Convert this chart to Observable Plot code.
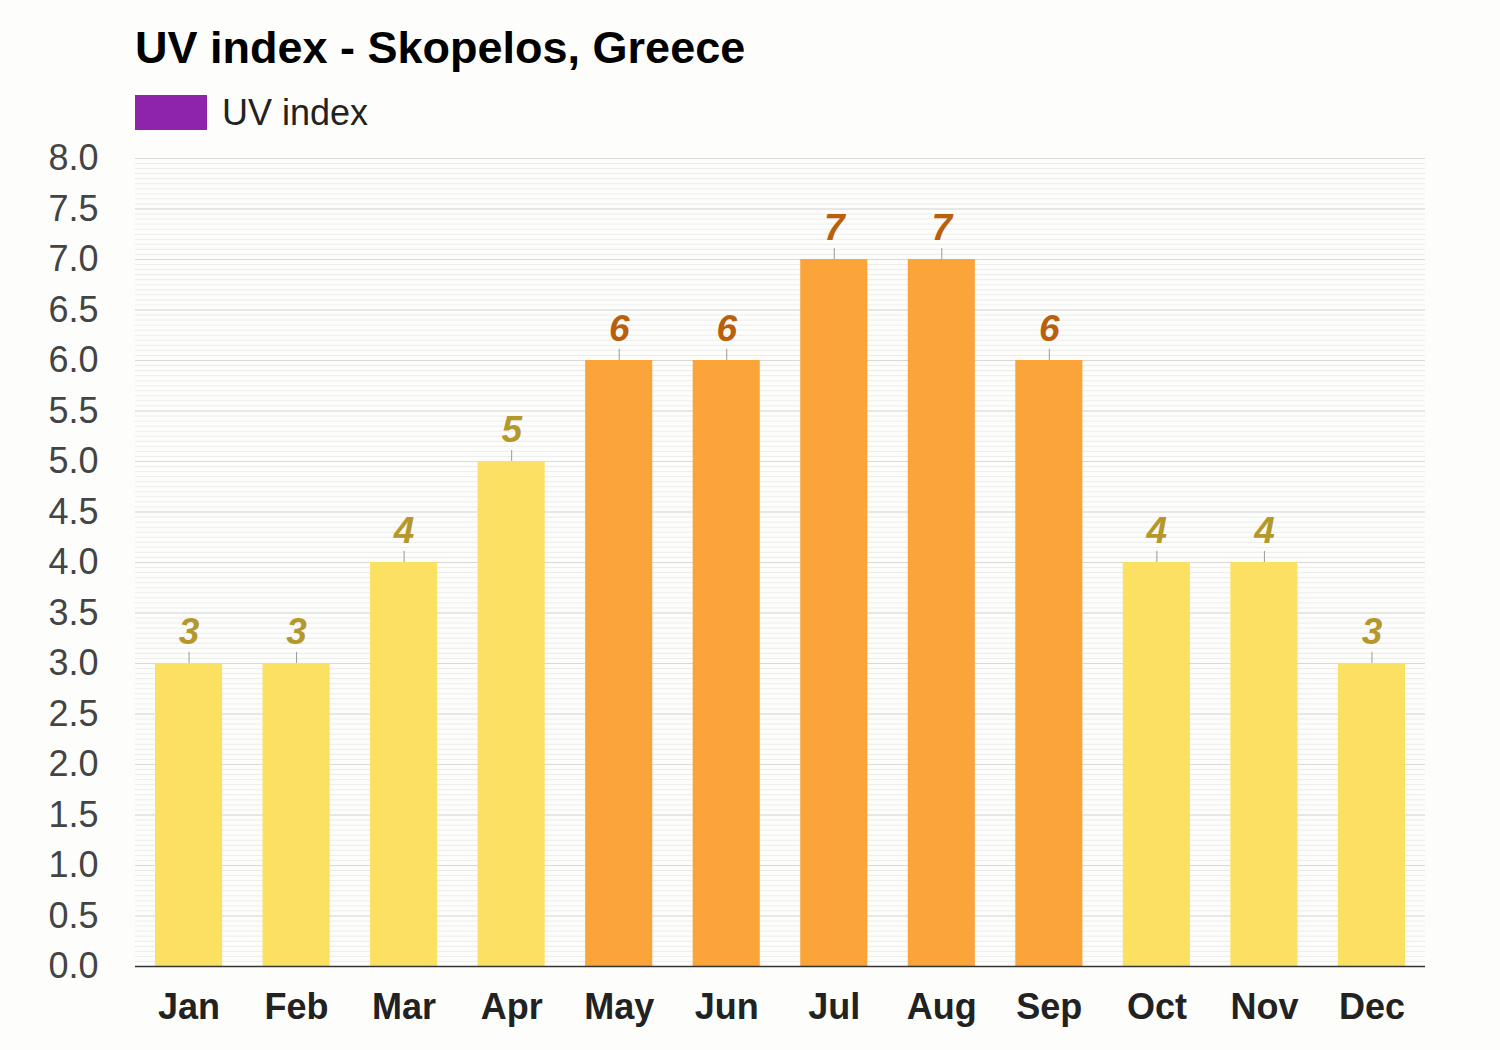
<!DOCTYPE html>
<html>
<head>
<meta charset="utf-8">
<script src="https://cdn.jsdelivr.net/npm/d3@7"></script>
<script src="https://cdn.jsdelivr.net/npm/@observablehq/plot@0.6"></script>
<style>
  html, body { margin: 0; padding: 0; background: #fdfefc; }
  body { width: 1500px; height: 1050px; overflow: hidden; font-family: "Liberation Sans", Arial, Helvetica, sans-serif; position: relative; }
  #title { position: absolute; left: 135px; top: 23px; font-size: 45px; font-weight: bold; color: #000; line-height: 50px; }
  #legend { position: absolute; left: 135px; top: 95px; display: flex; align-items: center; }
  #legend .sw { width: 72px; height: 35px; background: #8e24aa; }
  #legend .lb { margin-left: 15px; font-size: 36px; color: #222; line-height: 35px; }
  #chart { position: absolute; left: 0; top: 130px; }
</style>
</head>
<body>
<div id="title">UV index - Skopelos, Greece</div>
<div id="legend"><div class="sw"></div><div class="lb">UV index</div></div>
<div id="chart"></div>
<script>
const months = ["Jan","Feb","Mar","Apr","May","Jun","Jul","Aug","Sep","Oct","Nov","Dec"];
const uvIndex = [3, 3, 4, 5, 6, 6, 7, 7, 6, 4, 4, 3];
const yTicks = [0, 0.5, 1, 1.5, 2, 2.5, 3, 3.5, 4, 4.5, 5, 5.5, 6, 6.5, 7, 7.5, 8];

const data = months.map((m, i) => ({month: m, uv: uvIndex[i], level: uvIndex[i] >= 6 ? "high" : "moderate"}));
const minorTicks = d3.ticks(0, 8, 160);

const chart = Plot.plot({
  width: 1500,
  height: 920,
  marginLeft: 135,
  marginRight: 75,
  marginTop: 28,
  marginBottom: 84,
  style: {background: "transparent", fontFamily: "'Liberation Sans', Arial, sans-serif"},
  x: {domain: months, paddingInner: 0.376, paddingOuter: 0.186, round: false, label: null},
  y: {domain: [0, 8], label: null},
  color: {domain: ["moderate", "high"], range: ["#fcdf5c", "#fba134"]},
  marks: [
    Plot.ruleY(minorTicks, {stroke: "#ececec", strokeWidth: 1}),
    Plot.ruleY(yTicks, {stroke: "#d9d9d9", strokeWidth: 1}),
    Plot.barY(data, {x: "month", y: "uv", fill: "level", fillOpacity: 0.97}),
    Plot.ruleX(data, {x: "month", y1: "uv", y2: d => d.uv + 0.11, stroke: "#999", strokeWidth: 1}),
    Plot.text(data, {
      x: "month", y: "uv", text: d => String(d.uv), dy: -31,
      fill: d => d.level === "high" ? "#b8600b" : "#b5982b",
      fontSize: 37, fontWeight: "bold", fontStyle: "italic"
    }),
    Plot.ruleY([0], {stroke: "#333", strokeWidth: 1.5}),
    Plot.axisX({tickSize: 0, tickPadding: 27, fontSize: 36, fontWeight: "bold", fill: "#222", label: null}),
    Plot.axisY({ticks: yTicks, tickFormat: d3.format(".1f"), tickSize: 0, tickPadding: 37, fontSize: 36, fill: "#444", label: null})
  ]
});
document.getElementById("chart").appendChild(chart);
</script>
</body>
</html>
